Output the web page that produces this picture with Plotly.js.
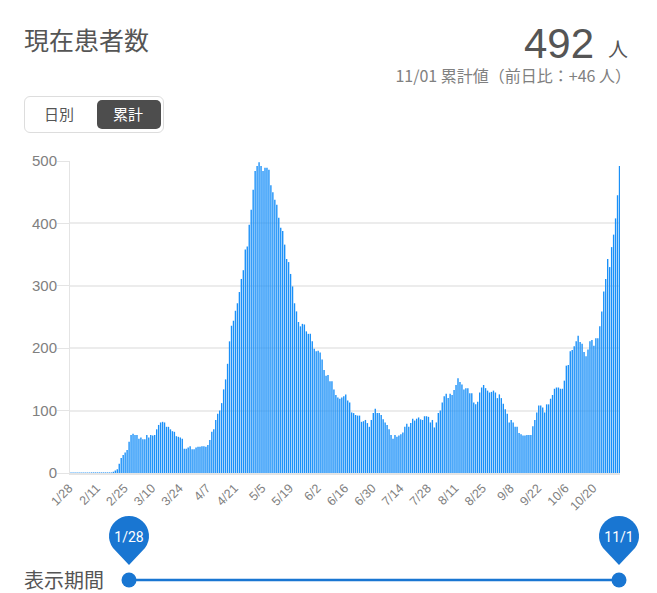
<!DOCTYPE html>
<html lang="ja">
<head>
<meta charset="utf-8">
<title>現在患者数</title>
<script src="https://cdn.plot.ly/plotly-3.0.1.min.js"></script>
<style>
  html, body { margin: 0; padding: 0; background: #fff; }
  #page { position: relative; width: 657px; height: 593px; overflow: hidden;
    font-family: "Noto Sans CJK JP", "Noto Sans", sans-serif; color: #555; }
  #chart { position: absolute; left: 0; top: 0; width: 657px; height: 593px; }
  /* 棒をピクセルに丸めない */
  #chart .bars path { shape-rendering: geometricPrecision !important; }
  .txt { position: absolute; white-space: nowrap; line-height: 1; z-index: 2; }
  #toggle { position: absolute; left: 24px; top: 96px; width: 138px; height: 35px;
    border: 1px solid #ddd; border-radius: 6px; z-index: 2; }
  #on { position: absolute; left: 97px; top: 100px; width: 64px; height: 29px;
    background: #4d4d4d; border-radius: 5px; z-index: 3; }
  #slider { position: absolute; left: 0; top: 505px; z-index: 2; }
</style>
</head>
<body>
<div id="page">
  <div id="chart"></div>

  <div class="txt" style="left:24px;top:27px;font-size:25px;">現在患者数</div>
  <div class="txt" style="left:524px;top:23px;font-size:42px;font-family:'Liberation Sans',sans-serif;">492</div>
  <div class="txt" style="left:608px;top:39px;font-size:20px;">人</div>
  <div class="txt" style="right:26px;top:67px;font-size:16px;color:#808080;">11/01 累計値（前日比：+46 人）</div>

  <div id="toggle"></div>
  <div id="on"></div>
  <div class="txt" style="left:44px;top:106px;font-size:15px;">日別</div>
  <div class="txt" style="left:113px;top:106px;font-size:15px;color:#fff;z-index:4;">累計</div>

  <div class="txt" style="left:24px;top:570px;font-size:20px;">表示期間</div>
  <svg id="slider" width="657" height="88">
    <line x1="129" y1="75" x2="619" y2="75" stroke="#1976d2" stroke-width="2.5"/>
    <circle cx="129" cy="75" r="7.5" fill="#1976d2"/>
    <circle cx="619" cy="75" r="7.5" fill="#1976d2"/>
    <path d="M129 60 L113 43 A20 20 0 1 1 145 43 Z" fill="#1976d2"/>
    <path d="M619 60 L603 43 A20 20 0 1 1 635 43 Z" fill="#1976d2"/>
    <text x="129" y="37" text-anchor="middle" fill="#fff" font-size="14" font-family="Roboto, sans-serif">1/28</text>
    <text x="619" y="37" text-anchor="middle" fill="#fff" font-size="14" font-family="Roboto, sans-serif">11/1</text>
  </svg>
</div>

<script>
// 累計の値（1/28 から 11/1 まで）
const patientValues = [
  1, 1, 1, 1, 1, 1, 1, 1, 1, 1, 1, 1, 1, 1, 1, 1, 1, 1, 1, 1, 1, 1,
  2, 4, 6, 15, 24, 29, 33, 37, 50, 61, 63, 61, 61, 55, 57, 54, 54, 61,
  57, 61, 60, 61, 70, 77, 81, 82, 81, 74, 74, 70, 67, 66, 59, 58, 57, 55,
  39, 39, 41, 43, 38, 38, 41, 42, 42, 43, 43, 42, 45, 53, 66, 70, 85, 95,
  100, 112, 134, 150, 175, 211, 236, 244, 260, 272, 290,
  311, 325, 358, 363, 398, 422, 454, 484, 492, 498, 492, 484, 489, 489, 486,
  461, 450, 438, 430, 409, 393, 388, 366, 343, 338, 319, 299, 272, 259, 242,
  235, 239, 238, 227, 223, 223, 211, 199, 195, 196, 193, 182, 165, 156, 157,
  147, 147, 134, 125, 121, 119, 121, 123, 126, 116, 113, 97, 96, 93, 92, 92,
  82, 83, 85, 80, 74, 85, 96, 103, 96, 96, 93, 86, 81, 77, 70, 61, 55, 61,
  58, 60, 62, 65, 74, 79, 74, 80, 87, 84, 87, 89, 86, 85, 91, 91, 90, 81,
  85, 73, 81, 96, 100, 113, 123, 127, 120, 127, 125, 133, 141, 152, 146, 142,
  134, 136, 136, 128, 128, 113, 110, 114, 129, 137, 141, 136, 132, 129, 130,
  132, 129, 120, 126, 120, 111, 102, 95, 81, 85, 81, 74, 74, 64, 62, 60, 60,
  61, 61, 61, 75, 85, 97, 108, 108, 105, 97, 110, 110, 119, 125, 135, 137,
  137, 135, 135, 148, 172, 173, 195, 197, 203, 211, 220, 210, 207, 194, 187,
  198, 211, 213, 204, 216, 216, 235, 259, 291, 311, 343, 330, 362, 382, 408,
  445, 492
];

const tickLabels = [
  "1/28", "2/11", "2/25", "3/10", "3/24", "4/7", "4/21", "5/5", "5/19", "6/2", "6/16",
  "6/30", "7/14", "7/28", "8/11", "8/25", "9/8", "9/22", "10/6", "10/20"
];

const yTicks = [0, 100, 200, 300, 400, 500];

// 日付ラベルを作る
const dayLabels = patientValues.map((_, i) => {
  const d = new Date(2020, 0, 28 + i);
  return `${d.getMonth() + 1}/${d.getDate()}`;
});

const trace = {
  type: "bar",
  x: dayLabels,
  y: patientValues,
  marker: { color: "#1a90f8", line: { width: 0 } },
};

const layout = {
  width: 657,
  height: 593,
  margin: { l: 70, r: 37, t: 161, b: 120 },
  paper_bgcolor: "rgba(0,0,0,0)",
  plot_bgcolor: "rgba(0,0,0,0)",
  showlegend: false,
  bargap: 0.3,
  font: { family: "'Liberation Sans', sans-serif", color: "#808080", size: 13 },
  xaxis: {
    type: "category",
    categoryorder: "array",
    categoryarray: dayLabels,
    tickmode: "array",
    tickvals: tickLabels,
    ticktext: tickLabels,
    tickangle: -45,
    tickfont: { size: 12.5, color: "#808080" },
    ticklabelshift: -1,
    ticklabelstandoff: 1,
    ticks: "",
    showgrid: false,
    showline: true,
    linecolor: "#e4e4e4",
    linewidth: 2,
    zeroline: false,
    range: [0, 279.25],
  },
  yaxis: {
    range: [0, 500],
    tickmode: "array",
    tickvals: yTicks,
    ticks: "outside",
    ticklen: 12,
    tickwidth: 1,
    tickcolor: "#e4e4e4",
    tickfont: { size: 15, color: "#808080" },
    ticklabelstandoff: -3,
    gridcolor: "#ececec",
    gridwidth: 2,
    showline: true,
    linecolor: "#e4e4e4",
    linewidth: 1,
    zeroline: false,
  },
};

// staticPlot だと棒の幅が丸められない
Plotly.newPlot("chart", [trace], layout, { staticPlot: true, displayModeBar: false });
</script>
</body>
</html>
